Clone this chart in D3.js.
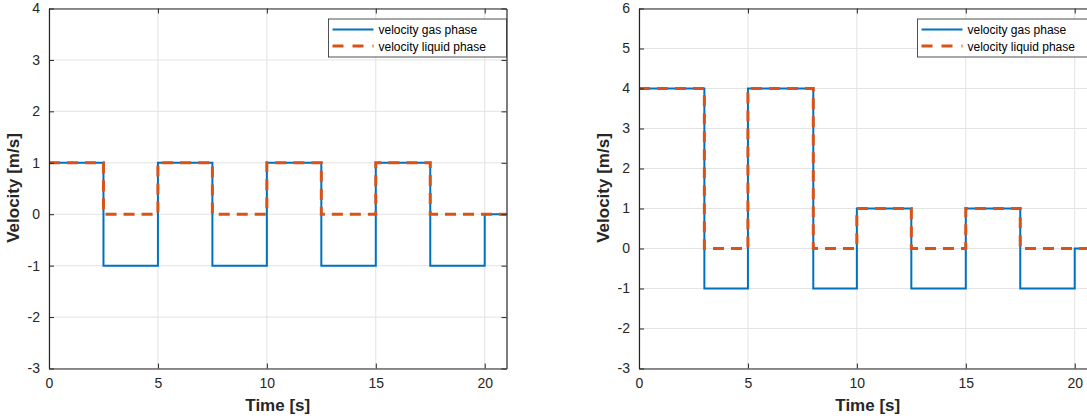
<!DOCTYPE html>
<html>
<head>
<meta charset="utf-8">
<script src="https://cdn.jsdelivr.net/npm/d3@7"></script>
<style>
  body { margin: 0; background: #fff; }
  svg { display: block; font-family: "Liberation Sans", Arial, sans-serif; }
</style>
</head>
<body>
<script>
'use strict'

var width = 1087
var height = 419

// step breakpoints (time where each constant segment starts, last value is end)
var leftTimes  = [0, 2.5, 5, 7.5, 10, 12.5, 15, 17.5, 20, 21]
var leftGas    = [1, -1, 1, -1, 1, -1, 1, -1, 0]
var leftLiquid = [1, 0, 1, 0, 1, 0, 1, 0, 0]

var rightTimes  = [0, 3, 5, 8, 10, 12.5, 15, 17.5, 20, 21]
var rightGas    = [4, -1, 4, -1, 1, -1, 1, -1, 0]
var rightLiquid = [4, 0, 4, 0, 1, 0, 1, 0, 0]

var xTicks = [0, 5, 10, 15, 20]
var leftYTicks = [-3, -2, -1, 0, 1, 2, 3, 4]
var rightYTicks = [-3, -2, -1, 0, 1, 2, 3, 4, 5, 6]
var seriesNames = ["velocity gas phase", "velocity liquid phase"]

var gasColor = "#0072BD"
var liquidColor = "#D95319"
var axisColor = "#262626"

var svg = d3.select("body").append("svg")
  .attr("width", width)
  .attr("height", height)

function stepPoints(times, values) {
  var pts = []
  for (var i = 0; i < values.length; i++) {
    pts.push([times[i], values[i]])
    pts.push([times[i + 1], values[i]])
  }
  return pts
}

function plain(d) { return String(d) }

function drawPanel(opt) {
  var x = d3.scaleLinear().domain([0, 21]).range([opt.left, opt.left + 457.5])
  var y = d3.scaleLinear().domain(opt.yDomain).range([368.5, 8.5])
  var g = svg.append("g")

  // grid
  g.selectAll(".gx").data(xTicks).enter().append("line")
    .attr("x1", d => x(d)).attr("x2", d => x(d))
    .attr("y1", y.range()[0]).attr("y2", y.range()[1])
    .attr("stroke", "#e3e3e3").attr("stroke-width", 1)
  g.selectAll(".gy").data(opt.yTicks).enter().append("line")
    .attr("x1", x.range()[0]).attr("x2", x.range()[1])
    .attr("y1", d => y(d)).attr("y2", d => y(d))
    .attr("stroke", "#e3e3e3").attr("stroke-width", 1)

  // lines
  var line = d3.line().x(d => x(d[0])).y(d => y(d[1]))
  g.append("path")
    .attr("d", line(stepPoints(opt.times, opt.gas)))
    .attr("fill", "none").attr("stroke", gasColor).attr("stroke-width", 2)
  g.append("path")
    .attr("d", line(stepPoints(opt.times, opt.liquid)))
    .attr("fill", "none").attr("stroke", liquidColor).attr("stroke-width", 3)
    .attr("stroke-dasharray", "11,7")

  // axes (ticks inside)
  var xAxisB = d3.axisBottom(x).tickValues(xTicks).tickFormat(plain).tickSizeInner(-5).tickSizeOuter(0).tickPadding(10)
  var xAxisT = d3.axisTop(x).tickValues(xTicks).tickSizeInner(-5).tickSizeOuter(0).tickFormat("")
  var yAxisL = d3.axisLeft(y).tickValues(opt.yTicks).tickFormat(plain).tickSizeInner(-5).tickSizeOuter(0).tickPadding(9)
  var yAxisR = d3.axisRight(y).tickValues(opt.yTicks).tickSizeInner(-5).tickSizeOuter(0).tickFormat("")

  var axes = [
    g.append("g").attr("transform", "translate(0," + y.range()[0] + ")").call(xAxisB),
    g.append("g").attr("transform", "translate(0," + y.range()[1] + ")").call(xAxisT),
    g.append("g").attr("transform", "translate(" + x.range()[0] + ",0)").call(yAxisL),
    g.append("g").attr("transform", "translate(" + x.range()[1] + ",0)").call(yAxisR)
  ]
  axes.forEach(function (a) {
    a.select(".domain").attr("stroke", axisColor).attr("stroke-width", 1.2)
    a.selectAll(".tick line").attr("stroke", axisColor)
    a.selectAll("text").attr("fill", axisColor).style("font-size", "14px")
      .style("font-family", "Liberation Sans, Arial, sans-serif")
  })

  // labels
  svg.append("text")
    .attr("x", x(opt.xLabelAt)).attr("y", 411)
    .attr("text-anchor", "middle")
    .attr("fill", axisColor)
    .style("font-size", "17px").style("font-weight", "bold")
    .text("Time [s]")
  svg.append("text")
    .attr("transform", "translate(" + (opt.left - 30) + "," + 188 + ") rotate(-90)")
    .attr("text-anchor", "middle")
    .attr("fill", axisColor)
    .style("font-size", "17px").style("font-weight", "bold")
    .text("Velocity [m/s]")

  // legend
  var lg = svg.append("g").attr("transform", "translate(" + opt.legendX + ",19)")
  lg.append("rect")
    .attr("width", 178).attr("height", 38)
    .attr("fill", "#fff").attr("stroke", axisColor).attr("stroke-width", 0.8)
  lg.append("line").attr("x1", 4).attr("x2", 45).attr("y1", 10.5).attr("y2", 10.5)
    .attr("stroke", gasColor).attr("stroke-width", 2)
  lg.append("line").attr("x1", 4).attr("x2", 45).attr("y1", 27).attr("y2", 27)
    .attr("stroke", liquidColor).attr("stroke-width", 3).attr("stroke-dasharray", "11,9")
  lg.selectAll("text.lt").data(seriesNames).enter().append("text")
    .attr("x", 50).attr("y", (d, i) => 15 + i * 16.5)
    .attr("fill", "#000")
    .style("font-size", "12px")
    .text(d => d)
}

drawPanel({
  left: 49, yDomain: [-3, 4], yTicks: leftYTicks,
  times: leftTimes, gas: leftGas, liquid: leftLiquid,
  xLabelAt: 10.5, legendX: 328.5
})
drawPanel({
  left: 639, yDomain: [-3, 6], yTicks: rightYTicks,
  times: rightTimes, gas: rightGas, liquid: rightLiquid,
  xLabelAt: 10.5, legendX: 917.5
})
</script>
</body>
</html>
